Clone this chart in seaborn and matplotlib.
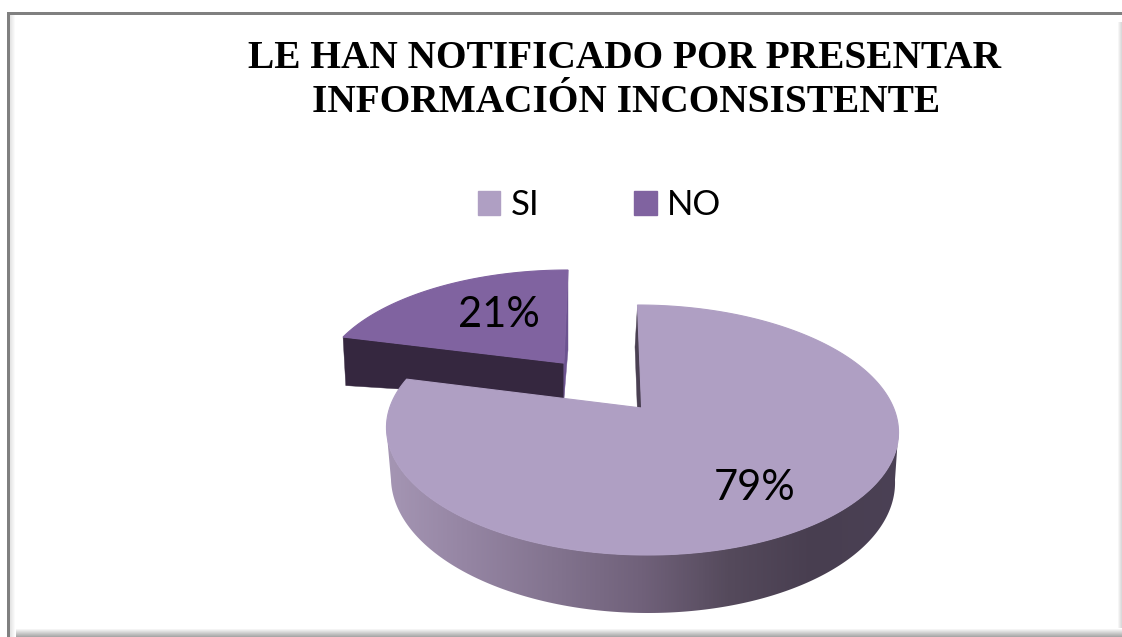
import numpy as np
import matplotlib
matplotlib.use('Agg')
import matplotlib.pyplot as plt
from matplotlib.patches import Patch, Polygon
import seaborn as sns

# datos
categorias = ['SI', 'NO']
valores = [79, 21]
titulo = 'LE HAN NOTIFICADO POR PRESENTAR\nINFORMACIÓN INCONSISTENTE'

sns.set_theme(style='white')
plt.rcParams['font.family'] = ['Lato', 'DejaVu Sans']

color_si, color_no = sns.blend_palette(['#AF9FC3', '#8063A0'], n_colors=2)
color_cara_si = '#4A4052'
color_cara_no = '#35273F'
color_borde_no = '#6C5390'
degradado = sns.blend_palette(['#A596B4', '#9484A2', '#82738E', '#70617A', '#554A5C', '#483E50', '#4B4155'],
                              as_cmap=True)

# cada porcion: (cx, cy, rx, ry, sesgo) en pixeles, arriba y abajo
TOP_SI = (642.5, 430, 256, 125, -5)
BOT_SI = (643, 480, 252, 133, -5)
CORTE_SI = (640, 480, 250, 133, -5)
TOP_NO = (563, 383, 243, 113, 5)
BOT_NO = (563, 410, 240, 60, 5)
C = 0.176


def proyectar(theta, r, geo):
    # disco unidad -> elipse con perspectiva, theta en grados desde arriba en sentido horario
    cx, cy, rx, ry, sesgo = geo
    t = np.radians(theta)
    x, y = r * np.sin(t), r * np.cos(t)
    d = 1 + C * y
    u = x * np.sqrt(1 - C ** 2) / d
    v = (y + C) / d
    return cx + rx * u + sesgo * v, cy - ry * v


def cara_plana(ax, t1, t2, geo, color, zorder=1):
    th = np.linspace(t1, t2, 200)
    xs, ys = proyectar(th, 1, geo)
    x0, y0 = proyectar(0, 0, geo)
    ax.fill(np.r_[x0, xs], np.r_[y0, ys], color=color, lw=0.8, zorder=zorder)


def cara_corte(ax, theta, geo_a, geo_b, color, zorder=1):
    xa, ya = proyectar(theta, 1, geo_a)
    xb, yb = proyectar(theta, 1, geo_b)
    xc, yc = proyectar(0, 0, geo_b)
    xd, yd = proyectar(0, 0, geo_a)
    ax.fill([xa, xb, xc, xd], [ya, yb, yc, yd], color=color, lw=0.3, zorder=zorder)


fig = plt.figure(figsize=(11.22, 6.37), dpi=100)
ax = fig.add_axes([0, 0, 1, 1])
ax.axis('off')

# marco
for i, g in enumerate(sns.blend_palette(['#FFFFFF', '#A8A8A8'], n_colors=9)):
    ax.fill([15, 1122, 1122, 15], [628 + i, 628 + i, 629 + i, 629 + i], color=g, lw=0)
for i, g in enumerate(sns.blend_palette(['#FFFFFF', '#DADADA'], n_colors=5)):
    ax.fill([1117 + i, 1118 + i, 1118 + i, 1117 + i], [22, 22, 628, 628], color=g, lw=0)
for i, g in enumerate(sns.blend_palette(['#E4E4E4', '#FFFFFF'], n_colors=6)):
    ax.fill([10 + i, 11 + i, 11 + i, 10 + i], [15, 15, 637, 637], color=g, lw=0)
ax.fill([7, 1122, 1122, 7], [12, 12, 15, 15], color='#808080', lw=0)
ax.fill([7, 10, 10, 7], [12, 12, 637, 637], color='#808080', lw=0)

# angulos a partir de los valores
total = sum(valores)
fin_si = 360 * valores[0] / total

# porcion NO
cara_corte(ax, fin_si, TOP_NO, BOT_NO, color_cara_no)
cara_corte(ax, 360, TOP_NO, BOT_NO, color_borde_no)
cara_plana(ax, fin_si, 360, TOP_NO, color_no)

# lateral de SI con degradado horizontal
th = np.linspace(100, 260, 300)
xt, yt = proyectar(th, 1, TOP_SI)
xb, yb = proyectar(th[::-1], 1, BOT_SI)
lateral = Polygon(np.c_[np.r_[xt, xb], np.r_[yt, yb]], closed=True, fc='none', ec='none')
ax.add_patch(lateral)
im = ax.imshow(np.linspace(0, 1, 512)[None, :], cmap=degradado, vmin=0, vmax=1, extent=(385, 900, 637, 0),
               aspect='auto', zorder=1.5)
im.set_clip_path(lateral)
cara_corte(ax, 0, TOP_SI, CORTE_SI, color_cara_si, zorder=2)
cara_plana(ax, 0, fin_si, TOP_SI, color_si, zorder=3)
ax.set_xlim(0, 1122)
ax.set_ylim(637, 0)

# etiquetas
ax.text(755, 488, f'{valores[0]}%', fontsize=30, ha='center', va='center', color='black', zorder=4)
ax.text(499, 315, f'{valores[1]}%', fontsize=30, ha='center', va='center', color='black', zorder=4)

# titulo
lineas = titulo.split('\n')
ax.text(625, 58, lineas[0], fontsize=28.4, fontweight='bold', family='Liberation Serif',
        ha='center', va='center', color='black')
ax.text(626, 102, lineas[1], fontsize=28.4, fontweight='bold', family='Liberation Serif',
        ha='center', va='center', color='black')

# leyenda
manejadores = [Patch(color=color_si), Patch(color=color_no)]
ax.legend(manejadores, categorias, loc='center', bbox_to_anchor=(599.5, 205), bbox_transform=ax.transData,
          ncol=2, frameon=False, fontsize=25, handlelength=0.66, handleheight=0.69,
          handletextpad=0.3, columnspacing=2.72, labelcolor='black')

fig.savefig('out.png', dpi=100)
